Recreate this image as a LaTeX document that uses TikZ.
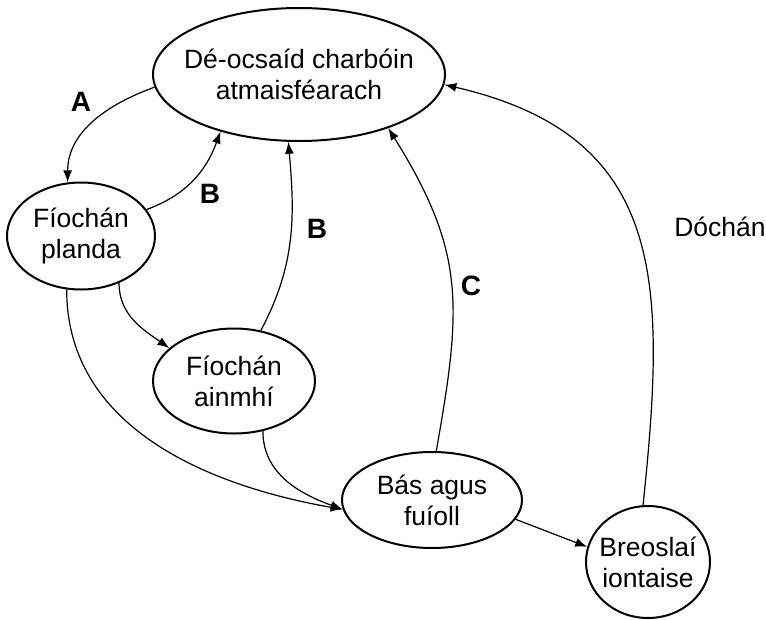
\documentclass[tikz,border=0pt]{standalone}
\usepackage{fontspec}
\setmainfont{Liberation Sans}
\usetikzlibrary{arrows.meta,shapes.geometric,calc,positioning}

\begin{document}
\begin{tikzpicture}[x=1pt, y=1pt, every node/.style={font=\fontsize{26.5}{31}\selectfont}]
    \tikzset{StockStyle/.style= {draw,
        ellipse,
        line width = 2pt,
        inner sep  = 0pt},
      StockText/.style = {align=center},
      FlowStyle/.style = {-{Latex[length=12pt, width=9pt]}, line width=1.2pt},
      TagStyle/.style = {font=\fontsize{28}{31}\selectfont\bfseries}}
    \useasboundingbox (0,-619) rectangle (766,0);
    % stocks
    \node[StockStyle, minimum width=292, minimum height=133,
      label={[StockText]center:{Dé-ocsaíd charbóin\\atmaisféarach}}] (co2) at (299,-74.5) {};
    \node[StockStyle, minimum width=148, minimum height=107,
      label={[StockText]center:{Fíochán\\planda}}] (planda) at (81,-236) {};
    \node[StockStyle, minimum width=162, minimum height=105,
      label={[StockText]center:{Fíochán\\ainmhí}}] (ainmhi) at (234,-381) {};
    \node[StockStyle, minimum width=180, minimum height=96,
      label={[StockText]center:{Bás agus\\fuíoll}}] (fuioll) at (432,-500) {};
    \node[StockStyle, minimum width=124, minimum height=112,
      label={[StockText]center:{Breoslaí\\iontaise}}] (breosla) at (648,-562) {};
    % flows
    \draw[FlowStyle] (co2.185) to[out=200, in=90] (planda.104);
    \draw[FlowStyle] (planda.22) to[out=20, in=250] (co2.216);
    \draw[FlowStyle] (ainmhi.62) to[out=62, in=275] (co2.261);
    \draw[FlowStyle] (fuioll.85) to[out=80, in=302, looseness=1.15] (co2.329);
    \draw[FlowStyle] (breosla.95) to[out=84, in=347, looseness=1.25] (co2.356);
    \draw[FlowStyle] (planda.309) to[out=270, in=145] (ainmhi.153);
    \draw[FlowStyle] (planda.255) to[out=270, in=170] (fuioll.186);
    \draw[FlowStyle] (ainmhi.300) to[out=270, in=160] (fuioll.186);
    \draw[FlowStyle] (fuioll.347) -- (breosla.166);
    % tags
    \node[TagStyle] (tagA) at (81,-102) {A};
    \node[TagStyle] (tagB1) at (210,-194) {B};
    \node[TagStyle] (tagB2) at (317,-229) {B};
    \node[TagStyle] (tagC) at (471,-286) {C};
    \node (tagD) at (720,-227) {Dóchán};
\end{tikzpicture}
\end{document}
